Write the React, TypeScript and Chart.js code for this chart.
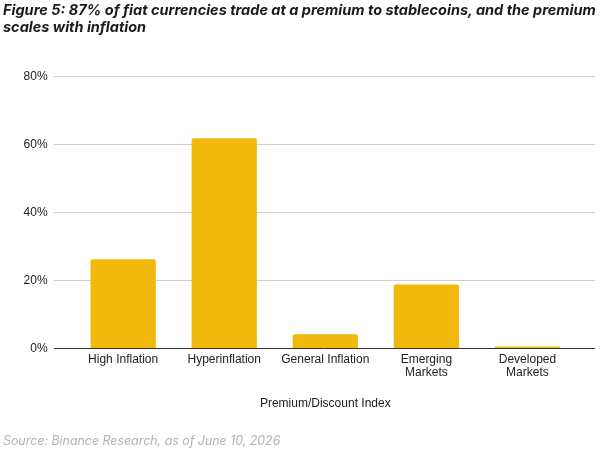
import React, { useEffect, useRef } from "react";
import { Chart, registerables } from "chart.js";

Chart.register(...registerables);

const categories: (string | string[])[] = [
  "High Inflation",
  "Hyperinflation",
  "General Inflation",
  ["Emerging", "Markets"],
  ["Developed", "Markets"],
];
const premiumValues = [26.2, 61.8, 4.1, 18.8, 0.5];
const yTickValues = [0, 20, 40, 60, 80];

const TITLE_LINE_1 =
  "Figure 5: 87% of fiat currencies trade at a premium to stablecoins, and the premium";
const TITLE_LINE_2 = "scales with inflation";
const SOURCE_TEXT = "Source: Binance Research, as of June 10, 2026";
const X_TITLE = "Premium/Discount Index";

const BAR_COLOR = "#F0B90B";

const gridPlugin = {
  id: "extendedGrid",
  beforeDatasetsDraw(chart: any) {
    const { ctx } = chart;
    const y = chart.scales.y;
    ctx.save();
    ctx.strokeStyle = "#cfcfcf";
    ctx.lineWidth = 1;
    y.ticks.forEach((t: any) => {
      if (t.value === 0) return;
      const py = Math.round(y.getPixelForValue(t.value)) + 0.5;
      ctx.beginPath();
      ctx.moveTo(54, py);
      ctx.lineTo(595, py);
      ctx.stroke();
    });
    ctx.restore();
  },
  afterDatasetsDraw(chart: any) {
    const { ctx } = chart;
    const y = chart.scales.y;
    ctx.save();
    ctx.strokeStyle = "#333333";
    ctx.lineWidth = 1;
    const py = Math.round(y.getPixelForValue(0)) + 0.5;
    ctx.beginPath();
    ctx.moveTo(54, py);
    ctx.lineTo(595, py);
    ctx.stroke();
    ctx.restore();
  },
};

function BarChart() {
  const ref = useRef<HTMLCanvasElement | null>(null);
  useEffect(() => {
    if (!ref.current) return;
    const chart = new Chart(ref.current, {
      type: "bar",
      data: {
        labels: categories as any,
        datasets: [
          {
            data: premiumValues,
            backgroundColor: BAR_COLOR,
            borderRadius: 2,
            borderSkipped: "bottom",
            barPercentage: 0.646,
            categoryPercentage: 1,
          },
        ],
      },
      options: {
        animation: false,
        responsive: true,
        maintainAspectRatio: false,
        layout: { padding: { left: 0, right: 22, top: 76.3, bottom: 0 } },
        plugins: {
          legend: { display: false },
          tooltip: { enabled: false },
          title: { display: false },
        },
        scales: {
          x: {
            grid: { display: false, drawTicks: false },
            border: { display: false },
            ticks: {
              color: "#222222",
              font: { family: "'Liberation Sans', Arial, sans-serif", size: 12, lineHeight: 1.05 },
              padding: 5.4,
              maxRotation: 0,
              autoSkip: false,
            },
            title: {
              display: true,
              text: X_TITLE,
              color: "#222222",
              font: { family: "'Liberation Sans', Arial, sans-serif", size: 12, lineHeight: 1.2 },
              padding: { top: 0, bottom: 38.5 },
            },
            afterFit(scale: any) {
              scale.height = 449 - 348.3;
            },
          },
          y: {
            min: 0,
            max: 80,
            grid: { display: false, drawTicks: false },
            border: { display: false },
            afterBuildTicks(scale: any) {
              scale.ticks = yTickValues.map((v) => ({ value: v }));
            },
            ticks: {
              color: "#222222",
              font: { family: "'Liberation Sans', Arial, sans-serif", size: 12 },
              padding: 25,
              callback: (v: any) => v + "%",
            },
            afterFit(scale: any) {
              scale.width = 72.6;
            },
          },
        },
      },
      plugins: [gridPlugin],
    });
    return () => chart.destroy();
  }, []);
  return <canvas ref={ref} />;
}

export default function App() {
  useEffect(() => {
    document.body.style.margin = "0";
  }, []);
  return (
    <div
      style={{
        position: "absolute",
        left: 0,
        top: 0,
        width: 600,
        height: 449,
        background: "#ffffff",
        overflow: "hidden",
      }}
    >
      <div style={{ position: "absolute", left: 0, top: 0, width: 600, height: 449 }}>
        <BarChart />
      </div>
      <div
        style={{
          position: "absolute",
          left: 3,
          top: 1,
          width: 600,
          fontFamily: "Inter, 'DejaVu Sans', sans-serif",
          fontWeight: 700,
          fontStyle: "italic",
          fontSize: 14.5,
          lineHeight: "17px",
          color: "#1a1a1a",
          whiteSpace: "nowrap",
        }}
      >
        <div>{TITLE_LINE_1}</div>
        <div>{TITLE_LINE_2}</div>
      </div>
      <div
        style={{
          position: "absolute",
          left: 3,
          top: 433,
          fontFamily: "Inter, 'DejaVu Sans', sans-serif",
          fontStyle: "italic",
          fontSize: 12.4,
          lineHeight: "16px",
          color: "#b3b3b3",
          whiteSpace: "nowrap",
        }}
      >
        {SOURCE_TEXT}
      </div>
    </div>
  );
}
